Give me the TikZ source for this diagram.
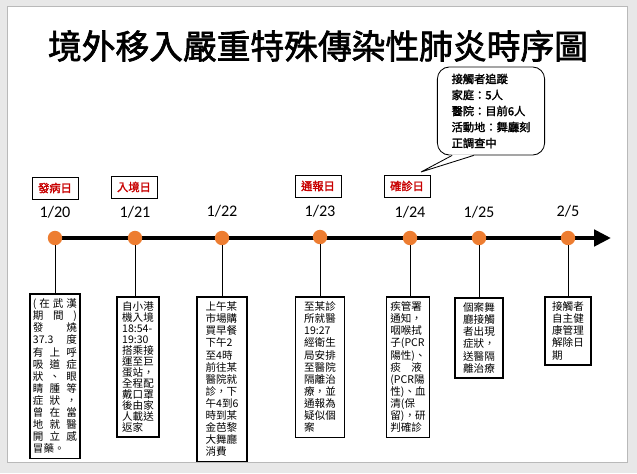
\documentclass[tikz,border=0pt]{standalone}
\usepackage{fontspec}
\usetikzlibrary{arrows.meta, calc}
\setmainfont{Carlito}
\newfontfamily\cjk{Noto Sans CJK TC}
\newfontfamily\cjkbold[FakeBold=2]{Noto Sans CJK TC}
\newcommand\fullrow[1]{\makebox[1.1cm][s]{#1}}
\definecolor{dotorange}{RGB}{237,125,49}
\definecolor{tagred}{RGB}{200,0,0}

\begin{document}
\begin{tikzpicture}[x=0.025cm, y=-0.025cm,
    dot/.style={circle, fill=dotorange, inner sep=0pt, minimum size=0.36cm},
    datelabel/.style={font=\fontsize{11.5}{13}\selectfont},
    tag/.style={draw, line width=0.5pt, minimum width=1.15cm, minimum height=0.55cm, inner sep=1pt, text=tagred, font=\cjkbold\fontsize{8}{9}\selectfont},
    event/.style={draw, line width=1.2pt, anchor=north, align=left, inner xsep=2pt, inner ysep=3.5pt, font=\cjk\fontsize{7.5}{8.6}\selectfont},
    link/.style={line width=0.6pt},
    timeline/.style={line width=3.2pt, -{Triangle[length=0.42cm, width=0.4cm]}}
  ]
    \useasboundingbox (0,0) rectangle (637,473);
    \fill[gray!18] (0,0) rectangle (637,473);
    \draw[gray!55, fill=white] (7,6) rectangle (627,462);

    \node[font=\cjkbold\fontsize{24}{28}\selectfont] (title) at (318,46) {境外移入嚴重特殊傳染性肺炎時序圖};

    \node[draw, fill=white, line width=0.6pt, rounded corners=0.3cm, minimum width=2.68cm, minimum height=2.2cm, align=left, font=\cjkbold\fontsize{8}{11.4}\selectfont] (trace) at (491,111) {接觸者追蹤\\家庭：5人\\醫院：目前6人\\活動地：舞廳刻\\正調查中};
    \coordinate (tip) at (421,172);
    \coordinate (tailA) at ($(trace.south west)!0.14!(trace.south east)$);
    \coordinate (tailB) at ($(trace.south west)!0.34!(trace.south east)$);
    \fill[white] ($(tailA)+(0,-1)$) -- (tip) -- ($(tailB)+(0,-1)$) -- cycle;
    \draw[line width=0.6pt] (tailA) -- (tip) -- (tailB);

    \node[tag] (onset) at (55,188) {發病日};
    \node[tag] (entry) at (134,187) {入境日};
    \node[tag] (report) at (318,186) {通報日};
    \node[tag] (confirm) at (407,186) {確診日};

    \node[datelabel] (l120) at (55,212) {1/20};
    \node[datelabel] (l121) at (135,212) {1/21};
    \node[datelabel] (l122) at (222,211) {1/22};
    \node[datelabel] (l123) at (320,211) {1/23};
    \node[datelabel] (l124) at (410,212) {1/24};
    \node[datelabel] (l125) at (479,212) {1/25};
    \node[datelabel] (l205) at (568,211) {2/5};

    \coordinate (tstart) at (48,238);
    \coordinate (tend) at (611,238);
    \draw[timeline] (tstart) -- (tend);

    \node[dot] (d120) at (55,238) {};
    \node[dot] (d121) at (135,238) {};
    \node[dot] (d122) at (222,238) {};
    \node[dot] (d123) at (320,237) {};
    \node[dot] (d124) at (410,238) {};
    \node[dot] (d125) at (479,238) {};
    \node[dot] (d205) at (568,238) {};

    \node[event, minimum width=1.25cm] (b120) at (55,293) {\fullrow{( 在 武 漢}\\\fullrow{期 間 )}\\\fullrow{發 燒}\\\fullrow{37.3 度}\\\fullrow{有 上 呼}\\\fullrow{吸 道 症}\\\fullrow{狀 、 眼}\\\fullrow{睛 腫 等}\\\fullrow{症 狀 ，}\\\fullrow{曾 在 當}\\\fullrow{地 就 醫}\\\fullrow{開 立 感}\\冒藥。};
    \node[event, font=\cjk\fontsize{7.5}{7.8}\selectfont, minimum width=1.05cm] (b121) at (138,296) {自小港\\機入境\\18:54-\\19:30\\搭乘接\\運至巨\\蛋站，\\全程配\\戴口罩\\後由家\\人載送\\返家};
    \node[event, minimum width=1.25cm] (b122) at (222,296) {上午某\\市場購\\買早餐\\下午2\\至4時\\前往某\\醫院就\\診，下\\午4到6\\時到某\\金芭黎\\大舞廳\\消費};
    \node[event, minimum width=1.22cm] (b123) at (320,296) {至某診\\所就醫\\19:27\\經衛生\\局安排\\至醫院\\隔離治\\療，並\\通報為\\疑似個\\案};
    \node[event, minimum width=1.08cm] (b124) at (408,296) {疾管署\\通知，\\咽喉拭\\子(PCR\\陽性)、\\痰　液\\(PCR陽\\性)、血\\清(保\\留)，研\\判確診};
    \node[event, minimum width=1.2cm] (b125) at (479,297) {個案舞\\廳接觸\\者出現\\症狀，\\送醫隔\\離治療};
    \node[event, minimum width=1.15cm] (b205) at (568,296) {接觸者\\自主健\\康管理\\解除日\\期};

    \draw[link] (d120.south) -- (b120.north);
    \draw[link] (d121.south) -- (d121 |- b121.north);
    \draw[link] (d122.south) -- (b122.north);
    \draw[link] (d123.south) -- (b123.north);
    \draw[link] (d124.south) -- (d124 |- b124.north);
    \draw[link] (d125.south) -- (b125.north);
    \draw[link] (d205.south) -- (b205.north);
\end{tikzpicture}
\end{document}
